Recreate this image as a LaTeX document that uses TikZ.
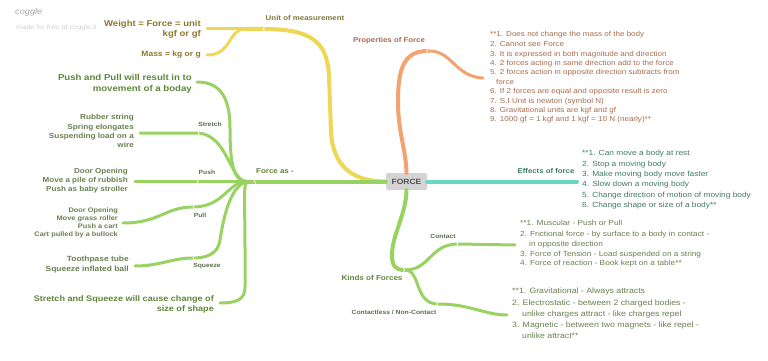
\documentclass[tikz,border=0pt]{standalone}
\usepackage{fontspec}
\setmainfont{Liberation Sans}[FakeStretch=1.12]
\usetikzlibrary{calc}
\definecolor{cyel}{RGB}{238,214,86}
\definecolor{corg}{RGB}{242,163,112}
\definecolor{cteal}{RGB}{104,216,196}
\definecolor{cgrn}{RGB}{152,211,98}
\definecolor{tyel}{RGB}{138,120,44}
\definecolor{tunit}{RGB}{125,122,60}
\definecolor{torg}{RGB}{165,108,78}
\definecolor{tteal}{RGB}{62,120,104}
\definecolor{tgrn}{RGB}{96,132,58}
\definecolor{tgrnl}{RGB}{104,128,80}
\definecolor{tsmall}{RGB}{92,110,80}
\newcommand{\fs}[2]{\fontsize{#1}{#2}\selectfont}
\begin{document}
\begin{tikzpicture}[x=1pt,y=-1pt,
  mainln/.style={line width=4pt,line cap=round},
  subln/.style={line width=3pt,line cap=round},
  rtext/.style={inner sep=0pt,align=right,anchor=north east,font=\bfseries},
  ltext/.style={inner sep=0pt,align=left,anchor=north west},
  lbl/.style={inner sep=0pt,font=\bfseries},
  chevL/.pic={\draw[white,line width=0.6pt,line cap=round] (1.6,-1.8) -- (0,0) -- (1.6,1.8);},
  chevR/.pic={\draw[white,line width=0.6pt,line cap=round] (-1.6,-1.8) -- (0,0) -- (-1.6,1.8);}
]
\useasboundingbox (0,0) rectangle (768,361);

% watermark
\node[inner sep=0pt,anchor=west,text=black!35,font=\itshape\fs{8.2}{9}] (cg) at (15,12) {coggle};
\node[inner sep=0pt,anchor=west,text=black!18,font=\fs{6.5}{8}] (cgm) at (16,28) {made for free at coggle.it};

% central node
\node[draw=none,fill=black!17,rounded corners=1.5pt,minimum width=41pt,minimum height=17pt,inner sep=0pt,
      text=black!68,font=\bfseries\fs{7.6}{9}] (force) at (406.5,181.5) {FORCE};

% ---------- coordinates ----------
\coordinate (ym) at (263,29);
\coordinate (yj) at (245,29);
\coordinate (yw) at (207,29);
\coordinate (ymass) at (207,55);
\coordinate (om) at (428,51);
\coordinate (oe) at (483,78);
\coordinate (te) at (577,181.5);
\coordinate (gm) at (254,181.5);
\coordinate (H) at (247,181.5);
\coordinate (gpp) at (197,82);
\coordinate (gstm) at (198,133);
\coordinate (gste) at (140,133);
\coordinate (gpum) at (197,181.5);
\coordinate (gpue) at (135,181.5);
\coordinate (gplm) at (193,207);
\coordinate (gple) at (123,223);
\coordinate (gsqm) at (193,258);
\coordinate (gsqe) at (135,266);
\coordinate (gss) at (220,303);
\coordinate (km) at (405,270);
\coordinate (kcm) at (458,244);
\coordinate (kce) at (515,245);
\coordinate (knm) at (438,304);
\coordinate (kne) at (507,315);

% ---------- yellow ----------
\draw[cyel,mainln] (force.west) .. controls (352,181.5) and (333,166) .. (331,132) -- (329,75)
   .. controls (327,42) and (312,29) .. (ym) -- (yj);
\draw[cyel,subln] (yj) -- (yw);
\draw[cyel,subln] (yj) .. controls (228,29) and (232,55) .. (ymass);

% ---------- orange ----------
\draw[corg,mainln] (force.north) .. controls (406,150) and (398,132) .. (398,102)
   .. controls (398,66) and (405,51) .. (om);
\draw[corg,subln] (om) .. controls (452,50) and (455,77) .. (oe);

% ---------- teal ----------
\draw[cteal,mainln] (force.east) -- (te);

% ---------- green: force as ----------
\draw[cgrn,mainln] (force.west) -- (gm) -- (H);
\draw[cgrn,subln] (H) .. controls (233,181.5) and (230,162) .. (230,128)
   .. controls (230,92) and (216,82) .. (gpp);
\draw[cgrn,subln] (H) .. controls (230,181.5) and (228,135) .. (gstm) -- (gste);
\draw[cgrn,subln] (H) -- (gpum) -- (gpue);
\draw[cgrn,subln] (H) .. controls (228,181.5) and (224,207) .. (gplm)
   .. controls (165,207) and (160,223) .. (gple);
\draw[cgrn,subln] (H) .. controls (228,186) and (222,228) .. (220,240)
   .. controls (218,255) and (205,258) .. (gsqm) .. controls (172,258) and (160,266) .. (gsqe);
\draw[cgrn,subln] (H) .. controls (243,186) and (245,200) .. (245,250) -- (245,287)
   .. controls (245,300) and (236,303) .. (gss);

% ---------- green: kinds ----------
\draw[cgrn,mainln] (force.south) .. controls (406,215) and (392,235) .. (392,255)
   .. controls (392,267) and (396,270) .. (km);
\draw[cgrn,subln] (km) .. controls (430,270) and (430,244) .. (kcm) -- (kce);
\draw[cgrn,subln] (km) .. controls (421,270) and (414,304) .. (knm)
   .. controls (470,304) and (485,315) .. (kne);

% chevrons
\pic at (ym) {chevL};
\pic at (om) {chevR};
\pic at (gm) {chevL};
\pic at (gstm) {chevL};
\pic at (gpum) {chevL};
\pic at (gplm) {chevL};
\pic at (gsqm) {chevL};
\pic at (kcm) {chevR};
\pic at (knm) {chevR};
\pic at (km) {chevR};

% ---------- branch labels ----------
\node[lbl,text=tunit,font=\bfseries\fs{7.05}{9}] (unit) at (305,18) {Unit of measurement};
\node[lbl,text=torg,font=\bfseries\fs{7}{9}] (prop) at (389,41) {Properties of Force};
\node[lbl,text=tgrn,font=\bfseries\fs{7.1}{9}] (fas) at (275,171) {Force as -};
\node[lbl,text=tteal,font=\bfseries\fs{6.95}{9}] (eff) at (546,171) {Effects of force};
\node[lbl,text=tgrn,font=\bfseries\fs{7.2}{9}] (kinds) at (372,278) {Kinds of Forces};
\node[lbl,text=tsmall,font=\bfseries\fs{6.05}{7}] (lst) at (210,124) {Stretch};
\node[lbl,text=tsmall,font=\bfseries\fs{6.05}{7}] (lpu) at (207,172) {Push};
\node[lbl,text=tsmall,font=\bfseries\fs{6.05}{7}] (lpl) at (200,215) {Pull};
\node[lbl,text=tsmall,font=\bfseries\fs{6.05}{7}] (lsq) at (207,266) {Squeeze};
\node[lbl,text=tsmall,font=\bfseries\fs{6.05}{7}] (lco) at (443,236) {Contact};
\node[lbl,text=tsmall,font=\bfseries\fs{6.05}{7}] (lcn) at (394,312) {Contactless / Non-Contact};

% ---------- leaf texts ----------
\node[rtext,text=tyel,font=\bfseries\fs{8.5}{10}] (weight) at (201,20.2) {Weight = Force = unit\\kgf or gf};
\node[rtext,text=tyel,font=\bfseries\fs{7.6}{10}] (mass) at (201,51.2) {Mass = kg or g};
\node[rtext,text=tgrn,font=\bfseries\fs{8.6}{11}] (pp) at (192,73.8) {Push and Pull will result in to\\movement of a boday};
\node[rtext,text=tgrnl,font=\bfseries\fs{7.3}{9.3}] (st) at (134,114.3) {Rubber string\\Spring elongates\\Suspending load on a\\wire};
\node[rtext,text=tgrnl,font=\bfseries\fs{7.2}{9}] (pu) at (128,168.3) {Door Opening\\Move a pile of rubbish\\Push as baby stroller};
\node[rtext,text=tgrnl,font=\bfseries\fs{6.6}{8}] (pl) at (118,207.6) {Door Opening\\Move grass roller\\Push a cart\\Cart pulled by a bullock};
\node[rtext,text=tgrnl,font=\bfseries\fs{7.5}{10}] (sq) at (129,256.2) {Toothpase tube\\Squeeze inflated ball};
\node[rtext,text=tgrn,font=\bfseries\fs{8.1}{10}] (ss) at (214,295) {Stretch and Squeeze will cause change of\\size of shape};

\node[ltext,text=torg,font=\fs{7.2}{9.4}] (plist) at (490,31.3) {**1. Does not change the mass of the body\\[0.6pt]
2. Cannot see Force\\
3. It is expressed in both magnitude and direction\\
4. 2 forces acting in same direction add to the force\\
5. 2 forces action in opposite direction subtracts from\\
\hspace*{6pt}force\\
6. If 2 forces are equal and opposite result is zero\\
7. S.I Unit is newton (symbol N)\\
8. Gravitational units are kgf and gf\\
9. 1000 gf = 1 kgf and 1 kgf = 10 N (nearly)**};

\node[ltext,text=tteal,font=\fs{7.45}{10.3}] (elist) at (582,150.3) {**1. Can move a body at rest\\
2. Stop a moving body\\
3. Make moving body move faster\\
4. Slow down a moving body\\
5. Change direction of motion of moving body\\
6. Change shape or size of a body**};

\node[ltext,text=tgrnl,font=\fs{7.4}{9.6}] (clist) at (520,220.3) {**1. Muscular - Push or Pull\\[1.4pt]
2. Frictional force - by surface to a body in contact -\\
\hspace*{9pt}in opposite direction\\
3. Force of Tension - Load suspended on a string\\
4. Force of reaction - Book kept on a table**};

\node[ltext,text=tgrnl,font=\fs{7.8}{10.7}] (nlist) at (512,288.1) {**1. Gravitational - Always attracts\\[1.3pt]
2. Electrostatic - between 2 charged bodies -\\
\hspace*{10pt}unlike charges attract - like charges repel\\
3. Magnetic - between two magnets - like repel -\\
\hspace*{10pt}unlike attract**};
\end{tikzpicture}
\end{document}
